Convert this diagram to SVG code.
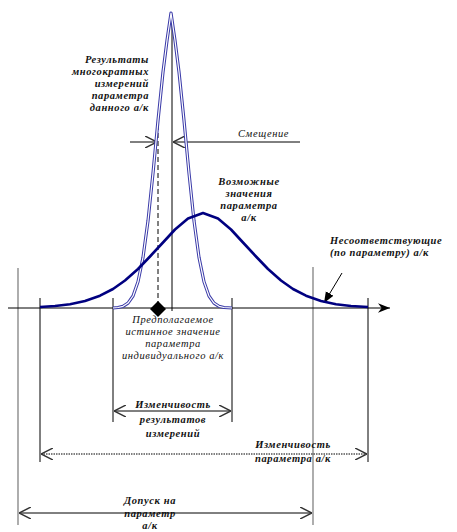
<svg xmlns="http://www.w3.org/2000/svg" width="457" height="532" viewBox="0 0 457 532">
<style>
.t{font-family:"Liberation Serif",serif;font-style:italic;font-size:10.5px;letter-spacing:0.6px;fill:#111}
.b{font-weight:bold}
.ln{stroke:#000;stroke-width:1;fill:none}
.gl{stroke:#777;stroke-width:1.2;fill:none}
</style>
<defs>
<marker id="ah" viewBox="0 0 10 10" refX="10" refY="5" markerWidth="12" markerHeight="12" markerUnits="userSpaceOnUse" orient="auto-start-reverse">
<path d="M0,0 L10,5 L0,10" fill="none" stroke="#333" stroke-width="1.2"/>
</marker>
<marker id="af" viewBox="0 0 10 10" refX="10" refY="5" markerWidth="20" markerHeight="12" markerUnits="userSpaceOnUse" orient="auto">
<path d="M0,1 L10,5 L0,9 L3,5 Z" fill="#000"/>
</marker>
<marker id="al" viewBox="0 0 10 10" refX="10" refY="5" markerWidth="11" markerHeight="11" markerUnits="userSpaceOnUse" orient="auto">
<path d="M0,1 L10,5 L0,9 Z" fill="#000"/>
</marker>
</defs>
<rect width="457" height="532" fill="#fff"/>
<g id="connectors">
<line class="gl" x1="18" y1="268" x2="18" y2="525"/>
<line class="gl" x1="313" y1="267" x2="313" y2="525"/>
<line class="ln" x1="40" y1="298" x2="40" y2="462"/>
<line class="ln" x1="368" y1="298" x2="368" y2="462"/>
<line class="ln" x1="113" y1="298" x2="113" y2="422"/>
<line class="ln" x1="232" y1="298" x2="232" y2="422"/>
<line class="ln" x1="8" y1="308" x2="390" y2="308" marker-end="url(#af)"/>
<line class="ln" x1="172" y1="15" x2="172" y2="311" stroke-width="1.8"/>
<line class="ln" x1="158" y1="125" x2="158" y2="302" stroke-dasharray="5,3" stroke-width="1.4"/>
<line class="ln" x1="130" y1="142" x2="157" y2="142" marker-end="url(#ah)"/>
<line class="ln" x1="300" y1="142" x2="173" y2="142" marker-end="url(#ah)"/>
<line class="ln" x1="114" y1="411" x2="231" y2="411" marker-start="url(#ah)" marker-end="url(#ah)"/>
<line class="ln" x1="41" y1="454" x2="367" y2="454" stroke-dasharray="1.5,1" stroke="#444" marker-start="url(#ah)" marker-end="url(#ah)"/>
<line class="ln" x1="19" y1="513" x2="312" y2="513" marker-start="url(#ah)" marker-end="url(#ah)"/>
<line class="ln" x1="342" y1="273" x2="324" y2="303" stroke="#555" marker-end="url(#al)"/>
</g>
<g id="narrow-curve">
<path d="M113,308 L118,307.5 L123,306.3 L128,303.1 L133,296 L138,281.8 L143,257.4 L148,220.8 L153,173.1 L158,120.5 L163,72 L167,40.5 L171,13 L175,40.5 L179,72 L184,120.5 L189,173.1 L194,220.8 L199,257.4 L204,281.8 L209,296 L214,303.1 L219,306.3 L224,307.5 L232,308" fill="none" stroke="#3a3aa8" stroke-width="3.2" stroke-linejoin="round"/>
<path d="M113,308 L118,307.5 L123,306.3 L128,303.1 L133,296 L138,281.8 L143,257.4 L148,220.8 L153,173.1 L158,120.5 L163,72 L167,40.5 L171,13 L175,40.5 L179,72 L184,120.5 L189,173.1 L194,220.8 L199,257.4 L204,281.8 L209,296 L214,303.1 L219,306.3 L224,307.5 L232,308" fill="none" stroke="#fff" stroke-width="1.2" stroke-linejoin="round"/>
</g>
<g id="wide-curve">
<path d="M40,307 L55,306 L70,304.2 L85,301 L100,295.7 L113,289 L125,280.5 L138,269 L150,256.5 L163,242.5 L175,229.5 L188,218.5 L203,213 L218,218.5 L231,229.5 L243,242.5 L256,256.5 L268,269 L281,280.5 L293,289 L306,295.7 L321,301 L336,304.2 L351,306 L368,307" fill="none" stroke="#000080" stroke-width="2.6" stroke-linejoin="round"/>
</g>
<g id="diamond">
<path d="M158,301 L166,309 L158,317 L150,309 Z" fill="#000"/>
</g>
<g id="label-results">
<text class="t b" text-anchor="end"><tspan x="149" y="63">Результаты</tspan><tspan x="149" y="75">многократных</tspan><tspan x="149" y="87">измерений</tspan><tspan x="149" y="99">параметра</tspan><tspan x="149" y="111">данного  а/к</tspan></text>
</g>
<g id="label-shift">
<text class="t" x="238" y="137" fill="#222244">Смещение</text>
</g>
<g id="label-possible">
<text class="t b" text-anchor="middle"><tspan x="249" y="185">Возможные</tspan><tspan x="249" y="197">значения</tspan><tspan x="249" y="209">параметра</tspan><tspan x="249" y="221">а/к</tspan></text>
</g>
<g id="label-nonconforming">
<text class="t b"><tspan x="330" y="244">Несоответствующие</tspan><tspan x="330" y="256">(по параметру) а/к</tspan></text>
</g>
<g id="label-true-value">
<text class="t" text-anchor="middle"><tspan x="173" y="323">Предполагаемое</tspan><tspan x="173" y="335">истинное значение</tspan><tspan x="173" y="347">параметра</tspan><tspan x="173" y="359">индивидуального а/к</tspan></text>
</g>
<g id="label-meas-var">
<text class="t b" text-anchor="middle"><tspan x="173" y="408">Изменчивость</tspan><tspan x="173" y="423">результатов</tspan><tspan x="173" y="437">измерений</tspan></text>
</g>
<g id="label-param-var">
<text class="t b" text-anchor="middle"><tspan x="293" y="448">Изменчивость</tspan><tspan x="293" y="462">параметра а/к</tspan></text>
</g>
<g id="label-tolerance">
<text class="t b" text-anchor="middle"><tspan x="150" y="504">Допуск на</tspan><tspan x="150" y="517">параметр</tspan><tspan x="150" y="529">а/к</tspan></text>
</g>
</svg>
